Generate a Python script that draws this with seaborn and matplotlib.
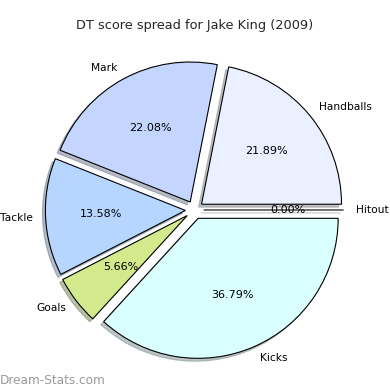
import matplotlib
matplotlib.use("Agg")
import matplotlib.pyplot as plt
import seaborn as sns

categories = ["Hitout", "Handballs", "Mark", "Tackle", "Goals", "Kicks"]
values = [0.00, 21.89, 22.08, 13.58, 5.66, 36.79]
colors = ["#ffffff", "#eaf0ff", "#c4d6ff", "#b6d6ff", "#d2ea8c", "#daffff"]
title = "DT score spread for Jake King (2009)"
watermark = "Dream-Stats.com"

sns.set_theme(style="white")
plt.rcParams['font.family'] = ['DejaVu Sans']

fig = plt.figure(figsize=(3.9, 3.9), dpi=100)
ax = fig.add_axes([19.5/390, 5/390, 350/390, 350/390])
wedges, texts, autotexts = ax.pie(
    values, labels=categories, colors=sns.color_palette(colors),
    explode=[0.065]*len(values), autopct="%1.2f%%",
    shadow={'ox': -0.015, 'oy': -0.015, 'shade': 0.45},
    startangle=0, counterclock=True, labeldistance=1.09, pctdistance=0.6,
    wedgeprops=dict(edgecolor="black", linewidth=0.8),
    textprops=dict(fontsize=7.7, color="black"))
for t in autotexts:
    t.set_fontsize(8)
ax.set_aspect("equal")
fig.text(195/390, 1-25/390, title, ha="center", va="center", fontsize=9.3)
fig.text(0.0, 1-380/390, watermark, ha="left", va="center", fontsize=8.7,
         color="#999999")
fig.savefig("out.png", dpi=100)
